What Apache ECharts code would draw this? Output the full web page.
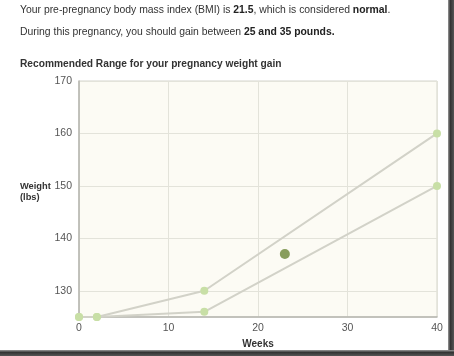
<!DOCTYPE html>
<html><head><meta charset="utf-8">
<script src="https://cdn.jsdelivr.net/npm/echarts@6/dist/echarts.min.js"></script>
<style>html,body{margin:0;padding:0;background:#fff}#c{width:454px;height:356px}</style>
</head><body><div id="c"></div>
<script>
const weeks = [0, 2, 14, 40];
const upperWeight = [125, 125, 130, 160];
const lowerWeight = [125, 125, 126, 150];
const currentPoint = [23, 137];
const yTicks = [130, 140, 150, 160, 170];
const xTicks = [0, 10, 20, 30, 40];

const chart = echarts.init(document.getElementById('c'), null, {renderer: 'canvas'});
const FONT = 'Liberation Sans, Arial, Helvetica, sans-serif';
const lineStyle = {color: '#d2d2c8', width: 2};
const sym = {color: '#c8dfa6'};
const rich = {n: {fontFamily: FONT, fontSize: 10.4, fill: '#333'}, b: {fontFamily: FONT, fontSize: 10.4, fontWeight: 'bold', fill: '#222'}};
chart.setOption({
  animation: false,
  backgroundColor: '#fff',
  textStyle: {fontFamily: FONT},
  grid: {left: 79, right: 17, top: 81, bottom: 39, show: true, backgroundColor: '#fcfbf4', borderColor: '#d4d4cc', borderWidth: 1},
  xAxis: {
    type: 'value', min: 0, max: 40, interval: 10,
    name: 'Weeks', nameLocation: 'middle', nameGap: 16,
    nameTextStyle: {fontFamily: FONT, fontSize: 10, fontWeight: 'bold', color: '#333'},
    axisLine: {show: true, lineStyle: {color: '#b5b5ae', width: 1.5}},
    axisTick: {show: false},
    axisLabel: {color: '#555', fontSize: 10.5, margin: 6, fontFamily: FONT, customValues: xTicks},
    splitLine: {show: true, lineStyle: {color: '#e3e3da', width: 1}}
  },
  yAxis: {
    type: 'value', min: 125, max: 170,
    axisLine: {show: true, lineStyle: {color: '#b5b5ae', width: 1.5}},
    axisTick: {show: false, customValues: yTicks},
    axisLabel: {color: '#555', fontSize: 10.5, margin: 7, fontFamily: FONT, customValues: yTicks},
    splitLine: {show: true, lineStyle: {color: '#e3e3da', width: 1}}
  },
  graphic: [
    {type: 'text', left: 20, top: 5, style: {
      text: '{n|Your pre-pregnancy body mass index (BMI) is }{b|21.5}{n|, which is considered }{b|normal}{n|.}', rich
    }},
    {type: 'text', left: 20, top: 27, style: {
      text: '{n|During this pregnancy, you should gain between }{b|25 and 35 pounds.}', rich
    }},
    {type: 'text', left: 20, top: 59, style: {
      text: 'Recommended Range for your pregnancy weight gain',
      font: 'bold 10.2px ' + FONT, fill: '#333'
    }},
    {type: 'text', left: 20, top: 181, style: {
      text: 'Weight\n(lbs)', font: 'bold 9.3px ' + FONT, fill: '#333', lineHeight: 11
    }},
    {type: 'rect', shape: {x: 448, y: 0, width: 6, height: 356}, style: {fill: new echarts.graphic.LinearGradient(0, 0, 1, 0, [{offset: 0, color: '#999'}, {offset: 0.4, color: '#333'}, {offset: 1, color: '#555'}])}, silent: true},
    {type: 'rect', shape: {x: 0, y: 350, width: 454, height: 6}, style: {fill: new echarts.graphic.LinearGradient(0, 0, 0, 1, [{offset: 0, color: '#999'}, {offset: 0.4, color: '#333'}, {offset: 1, color: '#555'}])}, silent: true}
  ],
  series: [
    {type: 'line', data: weeks.map((w, i) => [w, upperWeight[i]]), lineStyle, itemStyle: sym, symbol: 'circle', symbolSize: 8, showSymbol: true},
    {type: 'line', data: weeks.map((w, i) => [w, lowerWeight[i]]), lineStyle, itemStyle: sym, symbol: 'circle', symbolSize: 8, showSymbol: true},
    {type: 'scatter', data: [currentPoint], symbolSize: 10, itemStyle: {color: '#6a8636'}}
  ]
});
</script></body></html>
